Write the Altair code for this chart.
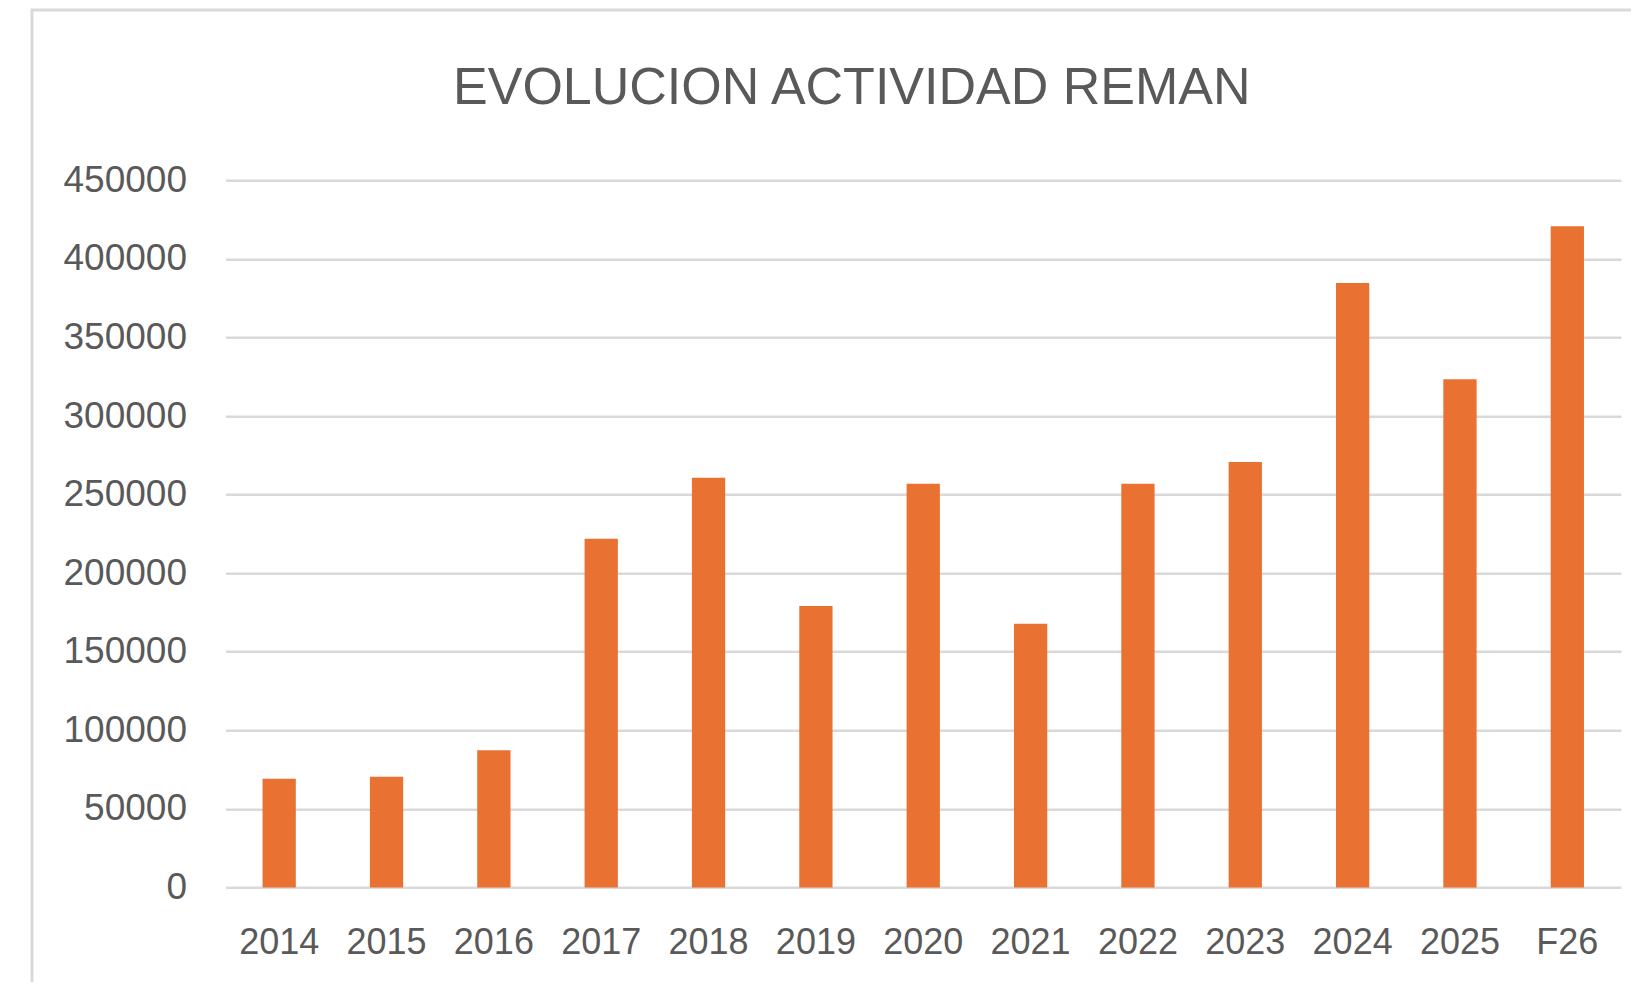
import altair as alt
import pandas as pd

years = ["2014", "2015", "2016", "2017", "2018", "2019", "2020",
         "2021", "2022", "2023", "2024", "2025", "F26"]
values = [69200, 70500, 87300, 221900, 260800, 179100, 256900,
          167900, 256900, 270700, 384600, 323400, 420700]
y_ticks = [0, 50000, 100000, 150000, 200000, 250000, 300000, 350000, 400000, 450000]

df = pd.DataFrame({"year": years, "value": values})

W, H = 1395.5, 707.2

bars = alt.Chart(df).mark_bar(color="#E97132").encode(
    x=alt.X("year:N", sort=years, title=None,
            scale=alt.Scale(paddingInner=0.69, paddingOuter=0.345),
            axis=alt.Axis(labelAngle=0, labelFontSize=36, labelColor="#595959",
                          labelFont="Liberation Sans", labelPadding=38,
                          ticks=False, domain=False, grid=False)),
    y=alt.Y("value:Q", title=None,
            scale=alt.Scale(domain=[0, 450000], nice=False),
            axis=alt.Axis(values=y_ticks, format="d", labelFontSize=37,
                          labelColor="#595959", labelFont="Liberation Sans",
                          labelPadding=39, ticks=False, domain=False,
                          grid=True, gridColor="#d9d9d9", gridWidth=2.5)),
)

frame = alt.Chart(alt.Data(values=[{"f": 1}])).mark_rect(
    fill=None, stroke="#d9d9d9", strokeWidth=3
).encode(
    x=alt.value(-193.5), x2=alt.value(1500),
    y=alt.value(-170.3), y2=alt.value(900),
)

chart = alt.layer(frame, bars).properties(
    width=W, height=H,
    title=alt.TitleParams("EVOLUCION ACTIVIDAD REMAN",
                          font="Liberation Sans", fontSize=52,
                          fontWeight="normal", color="#595959",
                          anchor="middle", dx=-71.5, offset=-106),
    autosize=alt.AutoSizeParams(type="none"),
    padding={"left": 217.5, "top": 172.3, "right": 10, "bottom": 94},
).configure_view(stroke=None)

chart.save("out.html", embed_options={"renderer": "svg", "actions": False})
